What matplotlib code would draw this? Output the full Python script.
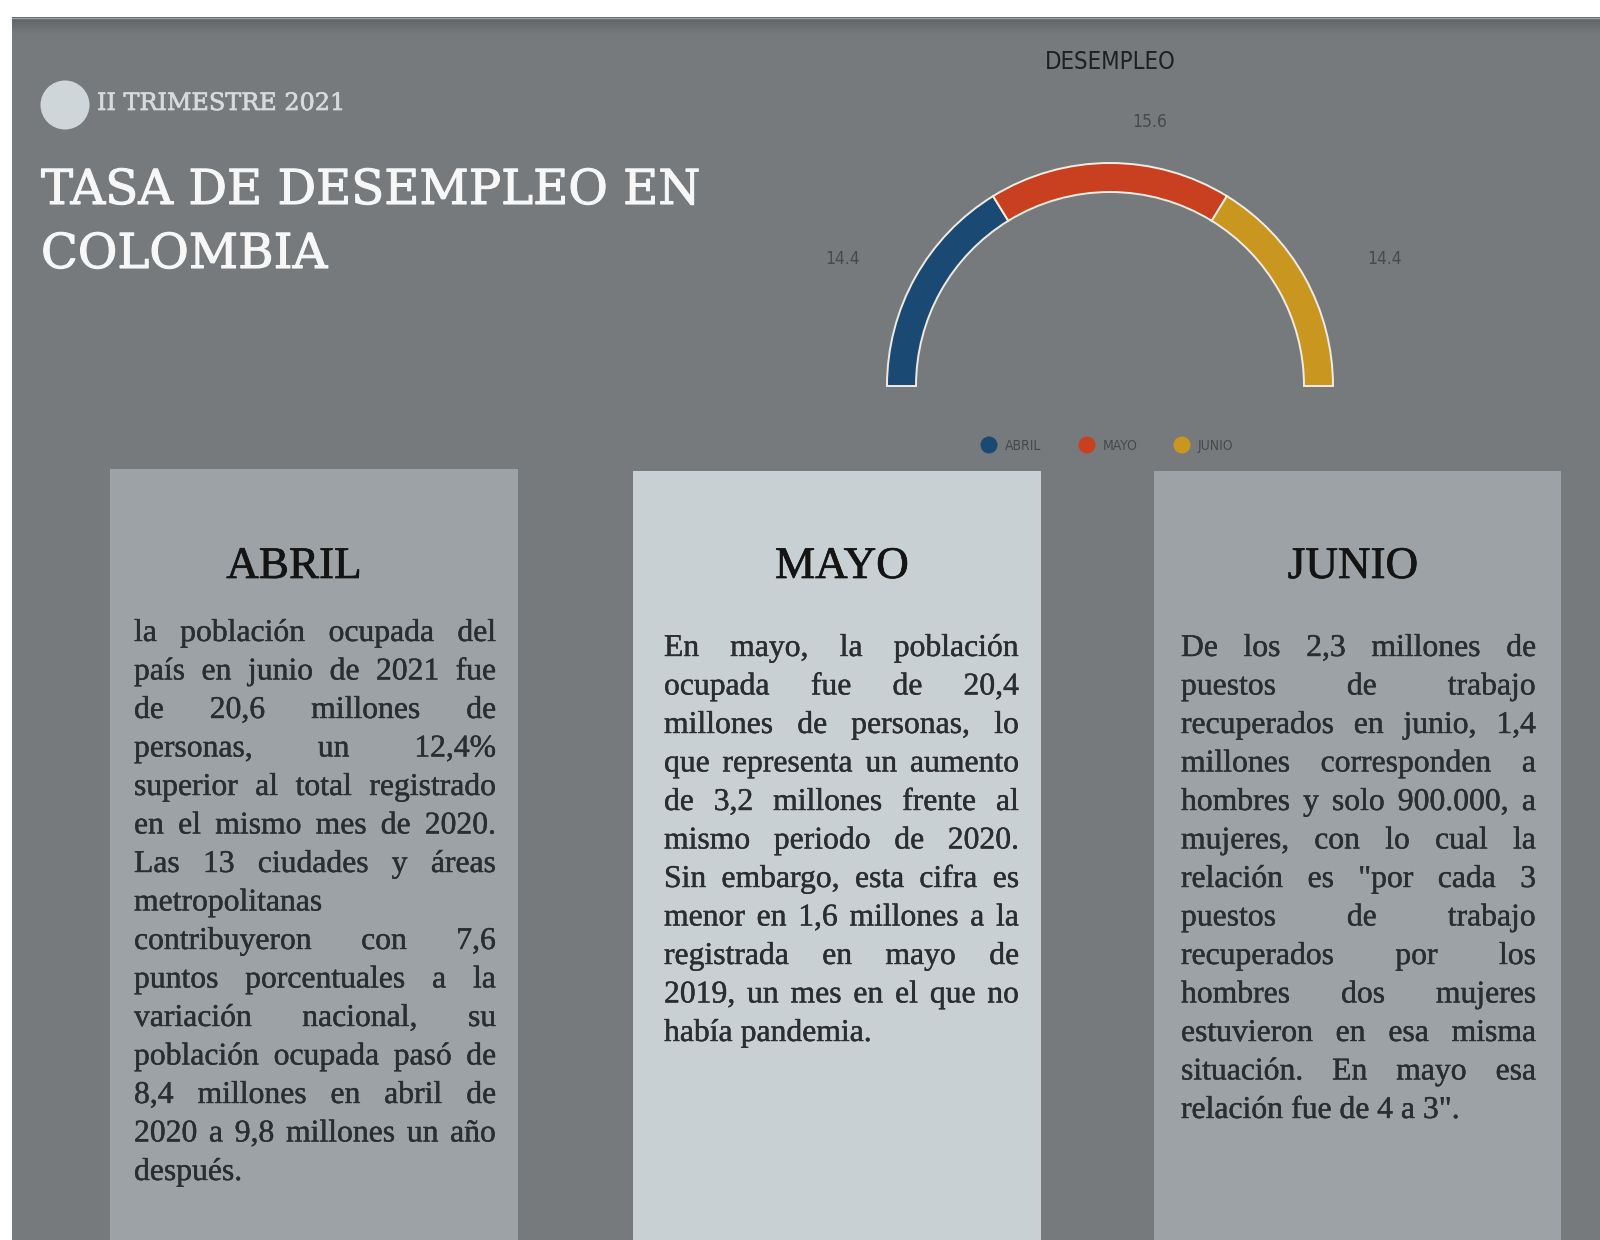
import matplotlib
matplotlib.use("Agg")
import matplotlib.pyplot as plt
import matplotlib.patheffects as pe
import numpy as np
from matplotlib.patches import Rectangle, Circle
from matplotlib.colors import LinearSegmentedColormap

# ---------------- data ----------------
months = ["ABRIL", "MAYO", "JUNIO"]
desempleo = [14.4, 15.6, 14.4]
month_colors = ["#1a4a73", "#c8401f", "#c9961f"]

kicker = "II TRIMESTRE 2021"
title_lines = ["TASA DE DESEMPLEO EN", "COLOMBIA"]
gauge_title = "DESEMPLEO"

abril_lines = [
    "la población ocupada del",
    "país en junio de 2021 fue",
    "de 20,6 millones de",
    "personas, un 12,4%",
    "superior al total registrado",
    "en el mismo mes de 2020.",
    "Las 13 ciudades y áreas",
    "metropolitanas",
    "contribuyeron con 7,6",
    "puntos porcentuales a la",
    "variación nacional, su",
    "población ocupada pasó de",
    "8,4 millones en abril de",
    "2020 a 9,8 millones un año",
    "después.",
]
mayo_lines = [
    "En mayo, la población",
    "ocupada fue de 20,4",
    "millones de personas, lo",
    "que representa un aumento",
    "de 3,2 millones frente al",
    "mismo periodo de 2020.",
    "Sin embargo, esta cifra es",
    "menor en 1,6 millones a la",
    "registrada en mayo de",
    "2019, un mes en el que no",
    "había pandemia.",
]
junio_lines = [
    "De los 2,3 millones de",
    "puestos de trabajo",
    "recuperados en junio, 1,4",
    "millones corresponden a",
    "hombres y solo 900.000, a",
    "mujeres, con lo cual la",
    "relación es \"por cada 3",
    "puestos de trabajo",
    "recuperados por los",
    "hombres dos mujeres",
    "estuvieron en esa misma",
    "situación. En mayo esa",
    "relación fue de 4 a 3\".",
]
box_texts = [abril_lines, mayo_lines, junio_lines]

# ---------------- layout / style ----------------
W, H = 1600, 1240
PANEL = "#767a7d"
BOX_COLORS = ["#9ca2a5", "#c8d0d3", "#9ca2a5"]
SERIF = ["Liberation Serif", "DejaVu Serif"]
SLAB = ["DejaVu Serif"]

fig = plt.figure(figsize=(16, 12.4), dpi=100)
fig.patch.set_facecolor("white")
ax = fig.add_axes([0, 0, 1, 1])
ax.set_xlim(0, W)
ax.set_ylim(H, 0)
ax.axis("off")
renderer = fig.canvas.get_renderer()


def fit_width(t, width):
    w = t.get_window_extent(renderer).width
    t.set_fontsize(t.get_fontsize() * width / w)


# background panel
ax.add_patch(Rectangle((12, 17), W - 12, H - 17, fc=PANEL, ec="none", zorder=0))
grad = np.linspace(0, 1, 30).reshape(-1, 1)
cmap = LinearSegmentedColormap.from_list("g", ["#5e6264", PANEL])
ax.imshow(grad, extent=(12, W, 34, 17), cmap=cmap, aspect="auto", zorder=0.5,
          origin="upper")
ax.plot([12, W], [17.5, 17.5], color="#a0a3a5", lw=1, zorder=0.6)
ax.set_xlim(0, W)
ax.set_ylim(H, 0)

# kicker + title
ax.add_patch(Circle((65, 105), 24.5, fc="#cfd6d9", ec="none", zorder=2))
t = ax.text(97, 110, kicker, family=SLAB, color="#d6dadc", fontsize=18,
            va="baseline", ha="left", zorder=3,
            path_effects=[pe.withStroke(linewidth=0.5, foreground="#d6dadc")])
fit_width(t, 248)
for i, line in enumerate(title_lines):
    t = ax.text(41, 204 + 64 * i, line, family=SLAB, color="#f7f7f7",
                fontsize=40, va="baseline", ha="left", zorder=3,
                path_effects=[pe.withStroke(linewidth=0.8, foreground="#f7f7f7")])
    if i == 0:
        fit_width(t, 659)
        title_fs = t.get_fontsize()
    else:
        t.set_fontsize(title_fs)

# gauge title
t = ax.text(1110, 69, gauge_title, family=["DejaVu Sans"], fontstretch="condensed",
            color="#1e2022", fontsize=16, va="baseline", ha="center", zorder=3)
fit_width(t, 131)

# ---------------- gauge (semi donut) ----------------
cx, cy, R, ring = 1110, 386, 223, 29
pax = fig.add_axes([(cx - R) / W, (H - cy - R) / H, 2 * R / W, 2 * R / H])
pax.set_facecolor("none")
wedges, _ = pax.pie(desempleo + [sum(desempleo)],
                    colors=month_colors + ["none"],
                    startangle=180, counterclock=False, radius=1,
                    wedgeprops=dict(width=ring / R, edgecolor="#f1ebe4", linewidth=1.4))
wedges[-1].set_visible(False)
for w_ in wedges:
    w_.set_clip_on(False)
pax.set_xlim(-1, 1)
pax.set_ylim(-1, 1)
pax.axis("off")

label_pos = [(-1.20, 0.545), (0.18, 1.16), (1.233, 0.545)]
for v, (lx, ly) in zip(desempleo, label_pos):
    pax.text(lx, ly, f"{v:.1f}", ha="center", va="baseline", fontsize=12.5,
             family=["DejaVu Sans"], fontstretch="condensed", color="#464a4d")

# legend
leg_x = [989, 1087, 1182]
for m, c, x in zip(months, month_colors, leg_x):
    ax.scatter([x], [445], s=150, color=c, edgecolor="none", zorder=3)
    ax.text(x + 16, 450, m, family=["DejaVu Sans"], fontstretch="condensed",
            fontsize=10, color="#45494c", va="baseline", ha="left", zorder=3)

# ---------------- boxes ----------------
box_x = [(110, 518), (633, 1041), (1154, 1561)]
box_top = [469, 471, 471]
text_x = [(134, 496), (664, 1019), (1181, 1536)]
text_y0 = [641, 656, 656]
head_cx = [294, 842, 1353]
DY = 38.5
BODY_FS = 22.8
BODY_COLOR = "#2b2e30"
body_fx = [pe.withStroke(linewidth=0.3, foreground=BODY_COLOR)]

for k in range(3):
    x0, x1 = box_x[k]
    ax.add_patch(Rectangle((x0, box_top[k]), x1 - x0, H - box_top[k],
                           fc=BOX_COLORS[k], ec="none", zorder=1))
    ax.text(head_cx[k], 578, months[k], family=SERIF, fontsize=32.5,
            color="#141414", ha="center", va="baseline", zorder=3,
            path_effects=[pe.withStroke(linewidth=0.5, foreground="#141414")])
    tx0, tx1 = text_x[k]
    lines = box_texts[k]
    for i, line in enumerate(lines):
        y = text_y0[k] + i * DY
        words = line.split()
        objs = [ax.text(0, y, w, family=SERIF, fontsize=BODY_FS, color=BODY_COLOR,
                        ha="left", va="baseline", zorder=3, path_effects=body_fx)
                for w in words]
        widths = [o.get_window_extent(renderer).width for o in objs]
        if i < len(lines) - 1 and len(words) > 1:
            gap = (tx1 - tx0 - sum(widths)) / (len(words) - 1)
        else:
            gap = BODY_FS * 100 / 72 * 0.25
        x = tx0
        for o, w in zip(objs, widths):
            o.set_x(x)
            x += w + gap

fig.savefig("out.png", dpi=100, facecolor="white")
